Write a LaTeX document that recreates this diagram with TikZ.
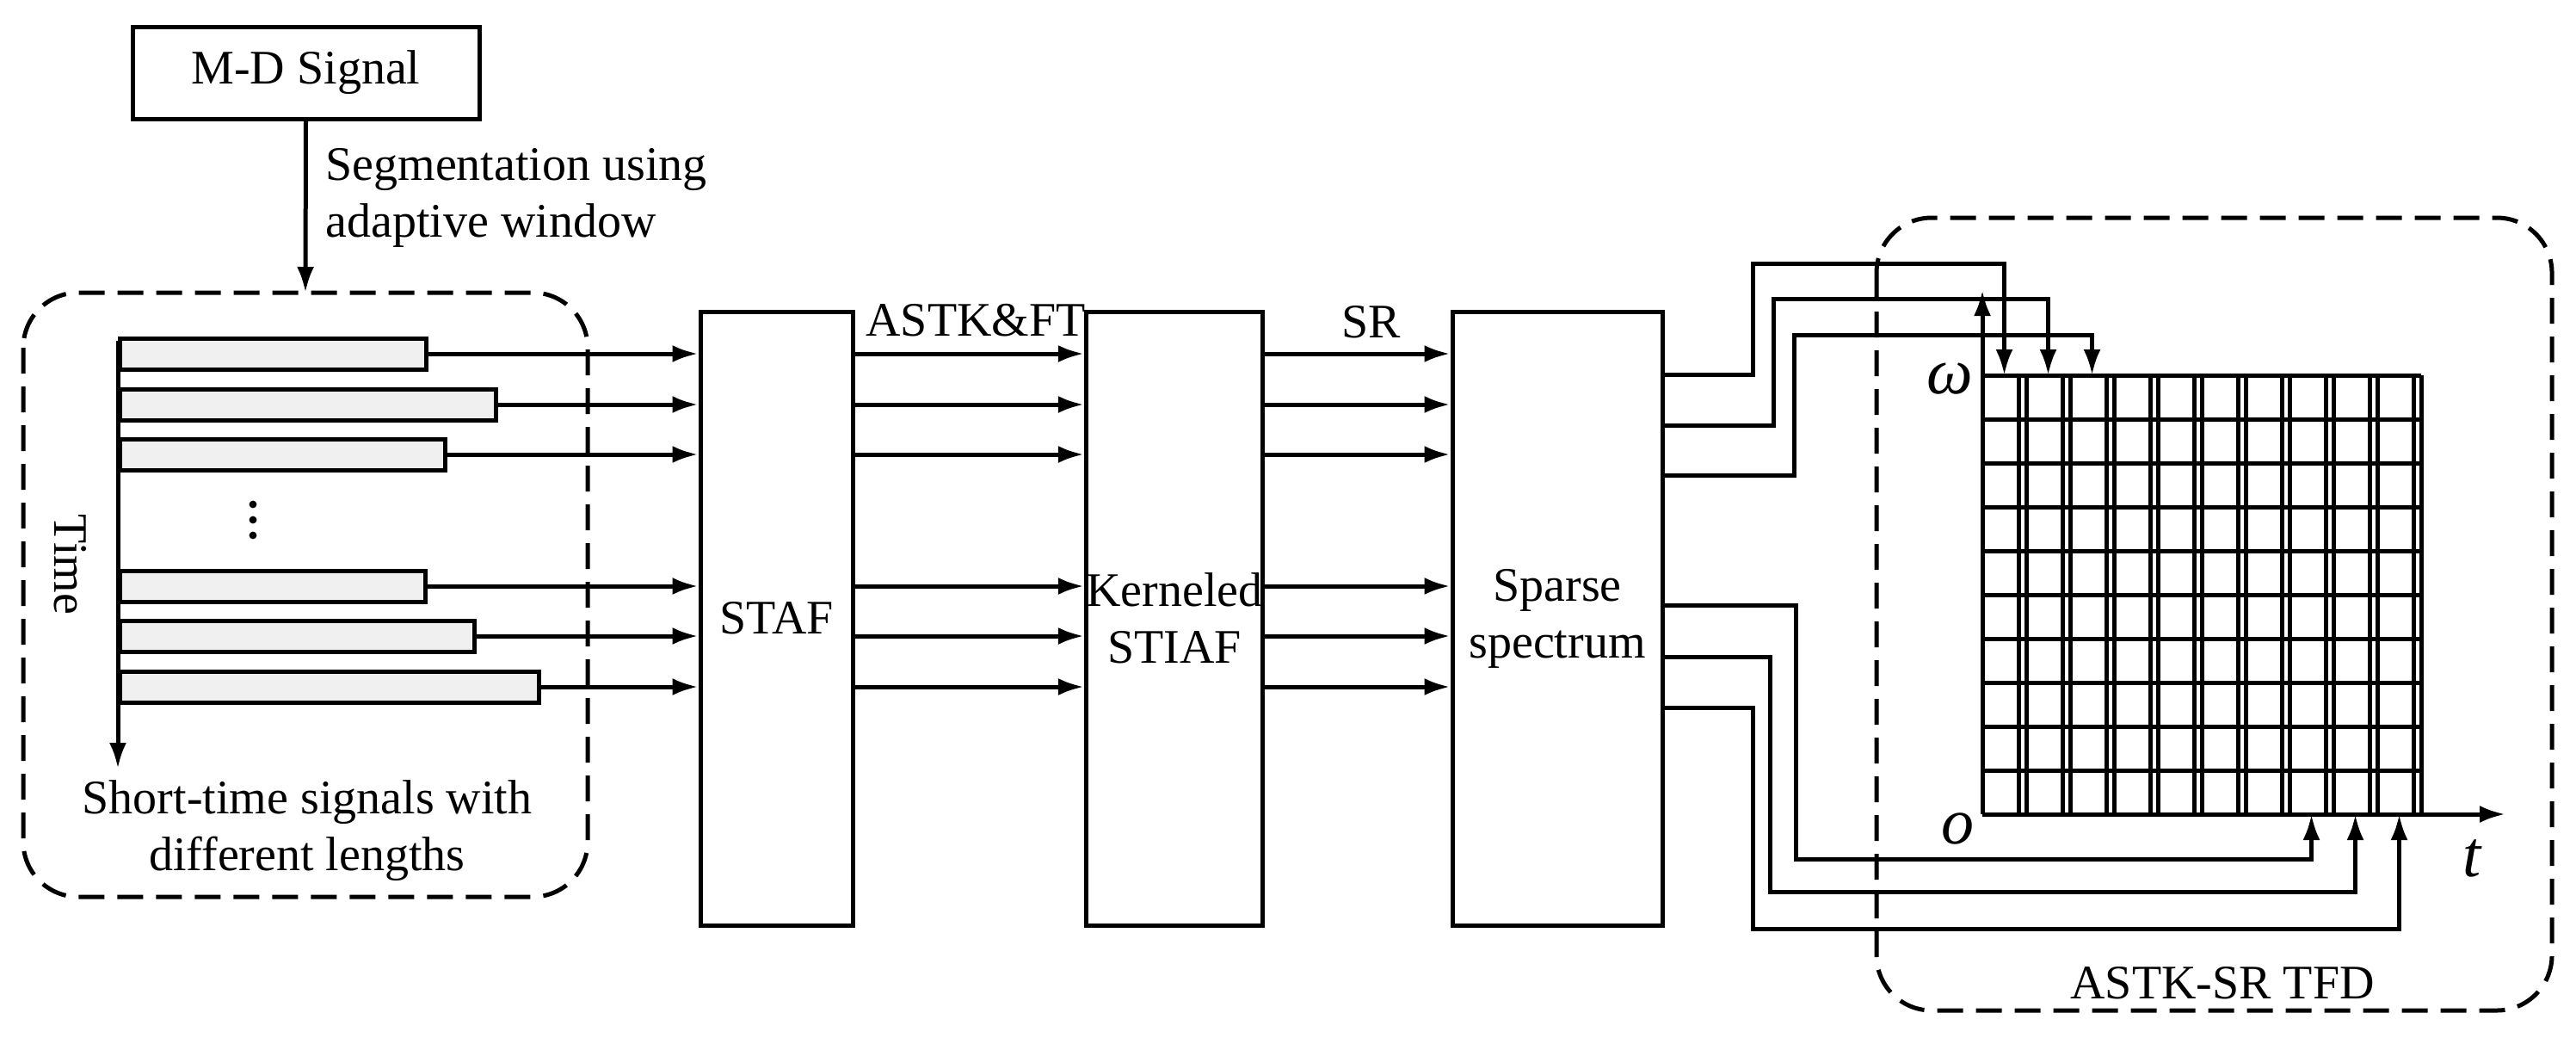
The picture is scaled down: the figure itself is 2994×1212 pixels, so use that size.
\documentclass[tikz,border=0pt]{standalone}
\usepackage{fontspec}
\setmainfont{Liberation Serif}
\usetikzlibrary{arrows.meta,calc}
\begin{document}
\begin{tikzpicture}[x=0.25pt,y=-0.25pt,
  line width=1.25pt,
  font=\fontsize{14}{16.5}\selectfont,
  arr/.style={-{Latex[length=7.5pt,width=5pt]}},
  box/.style={draw,inner sep=0pt,align=center},
  bar/.style={draw,fill=black!6,inner sep=0pt,minimum height=9pt,anchor=west},
  dbox/.style={draw,dash pattern=on 7.5pt off 3.75pt,rounded corners=16pt},
  lab/.style={inner sep=0pt,align=center}]
\useasboundingbox (0,0) rectangle (2994,1212);
% M-D signal
\node[box,minimum width=100.75pt,minimum height=26.75pt] (md) at (355.5,84.5) {M-D Signal};
\coordinate (ltop) at (355,340);
\draw[dbox] (27,340) rectangle (683,1042);
\draw[arr] (md.south) -- (ltop);
\node[lab,anchor=west,align=left] (seg) at (376,230) {Segmentation using\\adaptive window};
% time axis
\coordinate (ta) at (137,396);
\coordinate (tb) at (137,893);
\draw[arr] (ta) -- (tb);
\node[lab,rotate=-90] (time) at (82,656) {Time};
\foreach \i/\y/\r in {1/411/493,2/470/574,3/528/515,4/681/492,5/739/549,6/798/624}{
  \pgfmathsetmacro{\w}{(\r-137)*0.25}
  \node[bar,minimum width=\w pt] (b\i) at (137,\y) {};
}
\foreach \y in {586,604,622}{\fill (294,\y) circle (1.1pt);}
\node[lab] (stxt) at (357,965) {Short-time signals with\\different lengths};
% blocks
\node[box,minimum width=44.25pt,minimum height=178.25pt] (staf) at (902.5,718.5) {STAF};
\node[box,minimum width=43pt,minimum height=178.25pt] (kern) at (1365,718.5) {Kerneled\\STIAF};
\node[box,minimum width=61pt,minimum height=178.25pt] (sp) at (1810,718.5) {Sparse\\spectrum};
\node[lab] (l1) at (1134,372) {ASTK\&FT};
\node[lab] (l2) at (1594,374) {SR};
\foreach \i in {1,...,6}{
  \draw[arr] (b\i.east) -- (b\i.east -| staf.west);
  \draw[arr] (b\i.east -| staf.east) -- (b\i.east -| kern.west);
  \draw[arr] (b\i.east -| kern.east) -- (b\i.east -| sp.west);
}
% right dashed box
\draw[dbox] (2181,253) rectangle (2966,1174);
\node[lab] (tfd) at (2583,1142) {ASTK-SR TFD};
% grid
\draw (2304,436) grid[step=51] (2814,946);
\foreach \k in {0,...,10}{
  \draw (2304+51*\k,436) -- (2304+51*\k,946);
  \draw (2304,436+51*\k) -- (2814,436+51*\k);
}
\coordinate (o) at (2304,946);
\coordinate (wy) at (2304,337);
\coordinate (tx) at (2912,946);
\draw[arr] (o) -- (wy);
\draw[arr] (o) -- (tx);
\node[lab,font=\fontsize{19}{19}\selectfont\itshape] (wl) at (2266,440) {ω};
\node[lab,font=\fontsize{19}{19}\selectfont\itshape] (ol) at (2275,963) {o};
\node[lab,font=\fontsize{19}{19}\selectfont\itshape] (tl) at (2873,997) {t};
% top outputs
\foreach \y/\vx/\hy/\gx in {435/2037/306/2329.5,494/2061/347/2380.5,552/2085/389/2431.5}{
  \coordinate (s) at (1932,\y);
  \coordinate (g) at (\gx,436);
  \draw[arr] (s) -| (\vx,\hy) -| (g);
}
% bottom outputs
\foreach \y/\vx/\hy/\gx in {703/2087/998/2686.5,763/2057/1036/2737.5,822/2037/1079/2788.5}{
  \coordinate (s) at (1932,\y);
  \coordinate (g) at (\gx,946);
  \draw[arr] (s) -| (\vx,\hy) -| (g);
}
\end{tikzpicture}
\end{document}
